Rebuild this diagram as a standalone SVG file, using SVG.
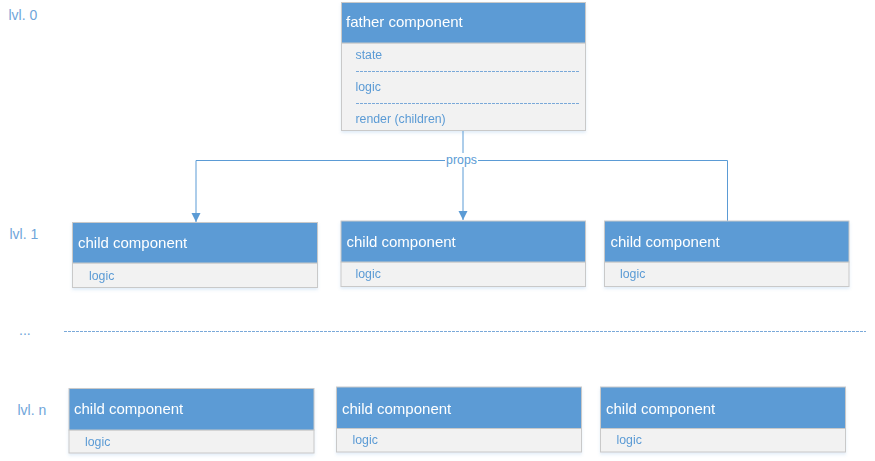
<svg xmlns="http://www.w3.org/2000/svg" width="875" height="461" viewBox="0 0 875 461">
<defs>
<style>
.hdr{fill:#5b9bd5;stroke:#c9c9c9;stroke-width:1}
.body{fill:#f2f2f2;stroke:#c9c9c9;stroke-width:1}
.title{font-family:"Liberation Sans",Arial,sans-serif;font-size:15px;fill:#ffffff}
.item{font-family:"Liberation Sans",Arial,sans-serif;font-size:12.3px;fill:#5b9bd5}
.lvl{font-family:"Liberation Sans",Arial,sans-serif;font-size:14px;fill:#6fa5da}
.sep{stroke:#7aa9d9;stroke-width:1;stroke-dasharray:3,1;fill:none}
.conn{stroke:#5b9bd5;stroke-width:1;fill:none}
</style>
<filter id="sh" x="-5%" y="-10%" width="110%" height="130%">
<feDropShadow dx="0" dy="2" stdDeviation="1.5" flood-color="#5b9bd5" flood-opacity="0.18"/>
</filter>
<marker id="arr" markerUnits="userSpaceOnUse" markerWidth="9" markerHeight="10" refX="9" refY="5" orient="auto">
<path d="M0,0.5 L9,5 L0,9.5 z" fill="#5b9bd5"/>
</marker>
</defs>
<g id="labels">
<text class="lvl" x="8.5" y="20">lvl. 0</text>
<text class="lvl" x="9.5" y="239">lvl. 1</text>
<text class="lvl" x="19" y="335">...</text>
<text class="lvl" x="17.5" y="415">lvl. n</text>
</g>
<line class="sep" x1="64" y1="331.5" x2="866" y2="331.5"/>
<g id="connectors">
<path class="conn" d="M463,130 V220" marker-end="url(#arr)"/>
<path class="conn" d="M463,160.5 H196 V222" marker-end="url(#arr)"/>
<path class="conn" d="M463,160.5 H727.5 V221"/>
<rect x="445" y="153" width="33" height="14" fill="#ffffff"/>
<text class="item" x="461.5" y="164" text-anchor="middle">props</text>
</g>
<g id="father" filter="url(#sh)">
<rect class="body" x="341.5" y="43" width="244" height="87.5"/>
<rect class="hdr" x="341.5" y="2.5" width="244" height="40.5"/>
<text class="title" x="346" y="27">father component</text>
<text class="item" x="355.5" y="59">state</text>
<line class="sep" x1="356" y1="71.5" x2="579" y2="71.5"/>
<text class="item" x="355.5" y="91">logic</text>
<line class="sep" x1="356" y1="103.5" x2="579" y2="103.5"/>
<text class="item" x="355.5" y="123">render (children)</text>
</g>
<g id="child-1-1" filter="url(#sh)">
<rect class="body" x="72.5" y="263" width="245" height="24.5"/>
<rect class="hdr" x="72.5" y="222.5" width="245" height="40.5"/>
<text class="title" x="78" y="248">child component</text>
<text class="item" x="89" y="280">logic</text>
</g>
<g id="child-1-2" filter="url(#sh)">
<rect class="body" x="341" y="262" width="244.5" height="24.5"/>
<rect class="hdr" x="341" y="221" width="244.5" height="41"/>
<text class="title" x="346.5" y="247">child component</text>
<text class="item" x="355.5" y="278">logic</text>
</g>
<g id="child-1-3" filter="url(#sh)">
<rect class="body" x="604.5" y="262" width="244.5" height="24.5"/>
<rect class="hdr" x="604.5" y="221" width="244.5" height="41"/>
<text class="title" x="610.5" y="247">child component</text>
<text class="item" x="620" y="278">logic</text>
</g>
<g id="child-n-1" filter="url(#sh)">
<rect class="body" x="69" y="430" width="245" height="23"/>
<rect class="hdr" x="69" y="388.5" width="245" height="41.5"/>
<text class="title" x="74" y="414">child component</text>
<text class="item" x="85" y="445.5">logic</text>
</g>
<g id="child-n-2" filter="url(#sh)">
<rect class="body" x="336.5" y="428.5" width="245" height="23.5"/>
<rect class="hdr" x="336.5" y="387" width="245" height="41.5"/>
<text class="title" x="342" y="413.5">child component</text>
<text class="item" x="352.5" y="444">logic</text>
</g>
<g id="child-n-3" filter="url(#sh)">
<rect class="body" x="600.5" y="428.5" width="245" height="23.5"/>
<rect class="hdr" x="600.5" y="387" width="245" height="41.5"/>
<text class="title" x="606" y="413.5">child component</text>
<text class="item" x="616.5" y="444">logic</text>
</g>
</svg>
